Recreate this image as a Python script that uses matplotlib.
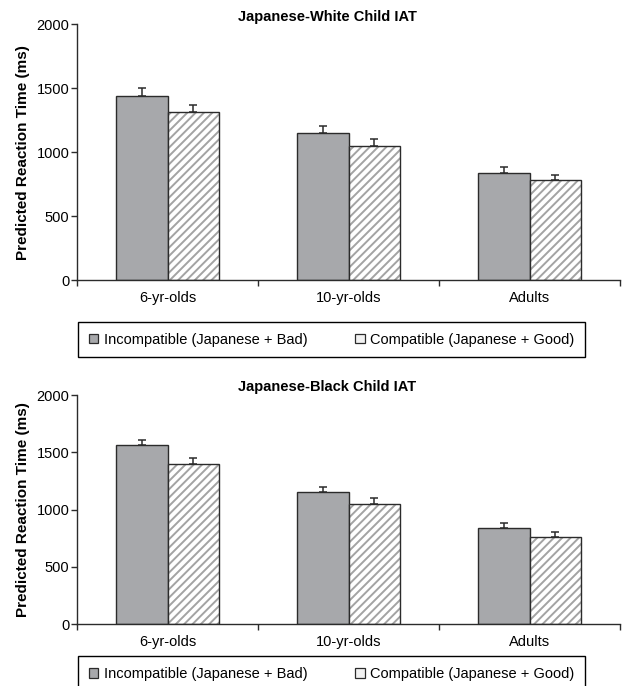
import numpy as np
import matplotlib
matplotlib.use('Agg')
import matplotlib.pyplot as plt
from matplotlib.patches import Patch

plt.rcParams.update({
    'font.family': ['Liberation Sans', 'DejaVu Sans'],
    'font.size': 10.5,
    'hatch.linewidth': 1.4,
})

groups = ['6-yr-olds', '10-yr-olds', 'Adults']
series = ['Incompatible (Japanese + Bad)', 'Compatible (Japanese + Good)']

# Japanese-White panel
white_incomp = [1440, 1151, 836]
white_incomp_se = [62, 52, 47]
white_comp = [1313, 1052, 781]
white_comp_se = [57, 47, 39]

# Japanese-Black panel
black_incomp = [1561, 1151, 840]
black_incomp_se = [49, 49, 40]
black_comp = [1400, 1052, 759]
black_comp_se = [53, 49, 43]

yticks = [0, 500, 1000, 1500, 2000]

COL_SOLID = '#a7a8ab'
COL_HATCH = '#a3a3a3'
COL_EDGE = '#2b2b2b'

W, H = 628, 686
fig = plt.figure(figsize=(W / 100, H / 100), dpi=100)


def px_axes(left, top, right, bottom):
    return fig.add_axes([left / W, 1 - bottom / H, (right - left) / W, (bottom - top) / H])


def panel(ax, title, title_y, incomp, incomp_se, comp, comp_se):
    x = np.arange(len(groups)) + 0.5
    bw = 0.287

    ax.bar(x - bw / 2, incomp, bw, color=COL_SOLID, edgecolor=COL_EDGE, lw=1.0, zorder=2)
    # hatched bars: stripes first, dark outline on top
    ax.bar(x + bw / 2, comp, bw, color='white', edgecolor=COL_HATCH, hatch='////', lw=0, zorder=2)
    ax.bar(x + bw / 2, comp, bw, color='none', edgecolor=COL_EDGE, lw=1.0, zorder=3)

    ax.errorbar(x - bw / 2, incomp, yerr=[np.zeros(len(incomp)), incomp_se], fmt='none',
                ecolor=COL_EDGE, elinewidth=1.1, capsize=3.2, capthick=1.1, zorder=4)
    ax.errorbar(x + bw / 2, comp, yerr=[np.zeros(len(comp)), comp_se], fmt='none',
                ecolor=COL_EDGE, elinewidth=1.1, capsize=3.2, capthick=1.1, zorder=4)

    ax.set_xlim(0, len(groups))
    ax.set_ylim(0, 2000)
    ax.set_yticks(yticks)
    ax.set_xticks(np.arange(len(groups) + 1))
    ax.set_xticklabels([])
    ax.set_xticks(x, minor=True)
    ax.set_xticklabels(groups, minor=True)
    ax.tick_params(axis='x', which='minor', length=0, pad=8)
    ax.tick_params(axis='x', which='major', length=4, width=1.0, color=COL_EDGE)
    ax.tick_params(axis='y', length=4, width=1.0, color=COL_EDGE, pad=1.5)

    for s in ['top', 'right']:
        ax.spines[s].set_visible(False)
    for s in ['left', 'bottom']:
        ax.spines[s].set_linewidth(1.0)
        ax.spines[s].set_color(COL_EDGE)

    ax.set_ylabel('Predicted Reaction Time (ms)', fontweight='bold', fontsize=11, labelpad=5)
    fig.text(327 / W, 1 - title_y / H, title, ha='center', va='center',
             fontweight='bold', fontsize=10.5)


def legend_box(cy):
    handles = [Patch(facecolor=COL_SOLID, edgecolor=COL_EDGE, lw=0.9),
               Patch(facecolor='#f2f2f2', edgecolor=COL_EDGE, lw=0.9)]
    leg = fig.legend(handles, series, loc='center', bbox_to_anchor=(331.5 / W, 1 - cy / H),
                     ncol=2, frameon=True, fancybox=False, framealpha=1,
                     edgecolor='black', fontsize=10.5, handlelength=0.65, handleheight=0.65,
                     handletextpad=0.35, columnspacing=3.3, borderpad=0.75, borderaxespad=0)
    leg.get_frame().set_linewidth(1.0)


ax1 = px_axes(77, 24.3, 620, 280)
panel(ax1, 'Japanese-White Child IAT', 17.5,
      white_incomp, white_incomp_se, white_comp, white_comp_se)
legend_box(339.5)

ax2 = px_axes(77, 395, 620, 624.3)
panel(ax2, 'Japanese-Black Child IAT', 387,
      black_incomp, black_incomp_se, black_comp, black_comp_se)
legend_box(674)

fig.savefig('out.png', dpi=100, facecolor='white')
